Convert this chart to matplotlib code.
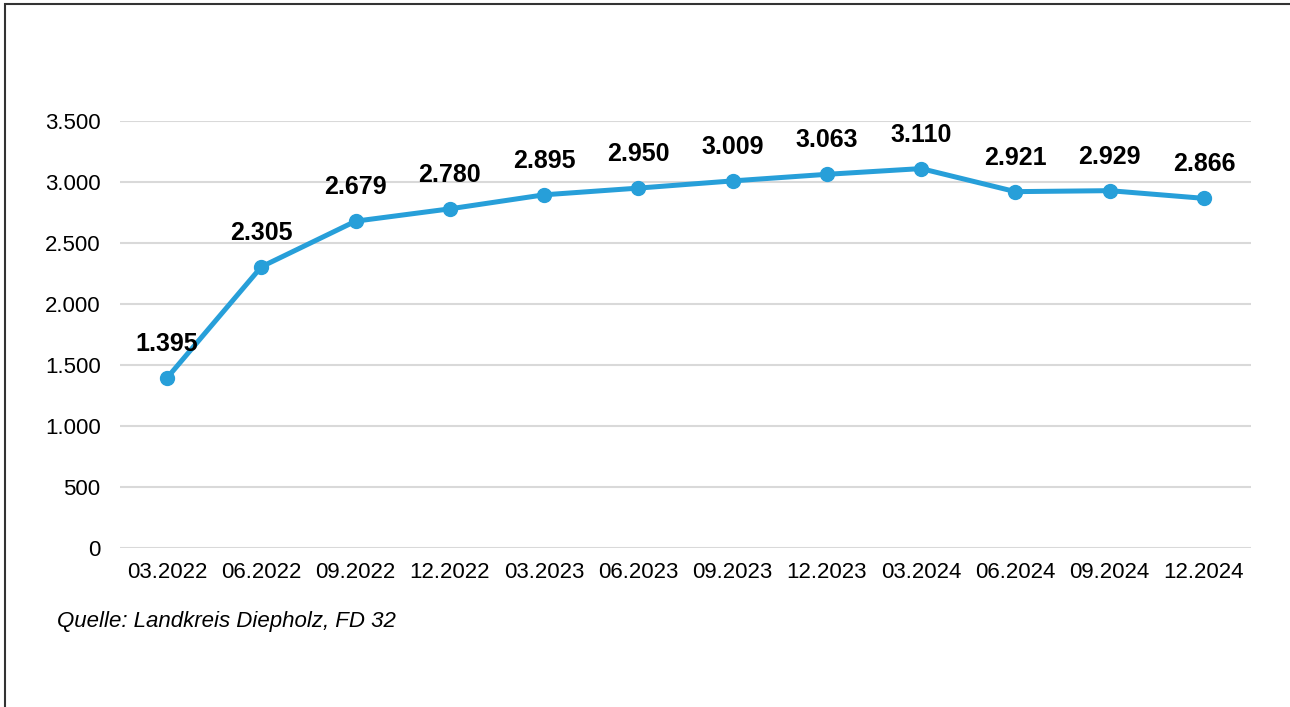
import matplotlib.pyplot as plt
from matplotlib.patches import Rectangle
from matplotlib.ticker import FuncFormatter

plt.rcParams['font.family'] = ['Liberation Sans', 'DejaVu Sans']

quarters = ['03.2022', '06.2022', '09.2022', '12.2022', '03.2023', '06.2023',
            '09.2023', '12.2023', '03.2024', '06.2024', '09.2024', '12.2024']
values = [1395, 2305, 2679, 2780, 2895, 2950, 3009, 3063, 3110, 2921, 2929, 2866]
y_ticks = [0, 500, 1000, 1500, 2000, 2500, 3000, 3500]

blue = '#279fd9'


def de_num(v, pos=None):
    # german thousands separator
    return f'{int(v):,}'.replace(',', '.')


fig = plt.figure(figsize=(12.9, 7.07), dpi=100)
ax = fig.add_axes([120 / 1290, 1 - 548 / 707, 1131 / 1290, 427 / 707])

x = list(range(len(quarters)))
ax.plot(x, values, color=blue, lw=3.6, marker='o', markersize=10,
        clip_on=False, zorder=3)

for xi, v in zip(x, values):
    ax.annotate(de_num(v), (xi, v), xytext=(0, 24.5), textcoords='offset points',
                ha='center', va='center', fontsize=18, fontweight='bold',
                color='black', zorder=4)

ax.set_xlim(-0.5, len(quarters) - 0.5)
ax.set_ylim(0, 3500)
ax.set_yticks(y_ticks)
ax.yaxis.set_major_formatter(FuncFormatter(de_num))
ax.set_xticks(x)
ax.set_xticklabels(quarters)
ax.tick_params(axis='both', length=0, labelsize=16, colors='black')
ax.tick_params(axis='y', pad=14)
ax.tick_params(axis='x', pad=10)
ax.grid(axis='y', color='#d9d9d9', lw=1.5)
ax.set_axisbelow(True)
for s in ax.spines.values():
    s.set_visible(False)

fig.text(57 / 1290, 1 - 621 / 707, 'Quelle: Landkreis Diepholz, FD 32',
         fontsize=16, style='italic', va='center', ha='left')

# outer frame (left and top visible)
fig.patches.append(Rectangle((5 / 1290, -0.1), 1.2, 1.1 - 4 / 707,
                             transform=fig.transFigure, fill=False,
                             edgecolor='#333333', lw=1.5))

fig.savefig('out.png', dpi=100, facecolor='white')
